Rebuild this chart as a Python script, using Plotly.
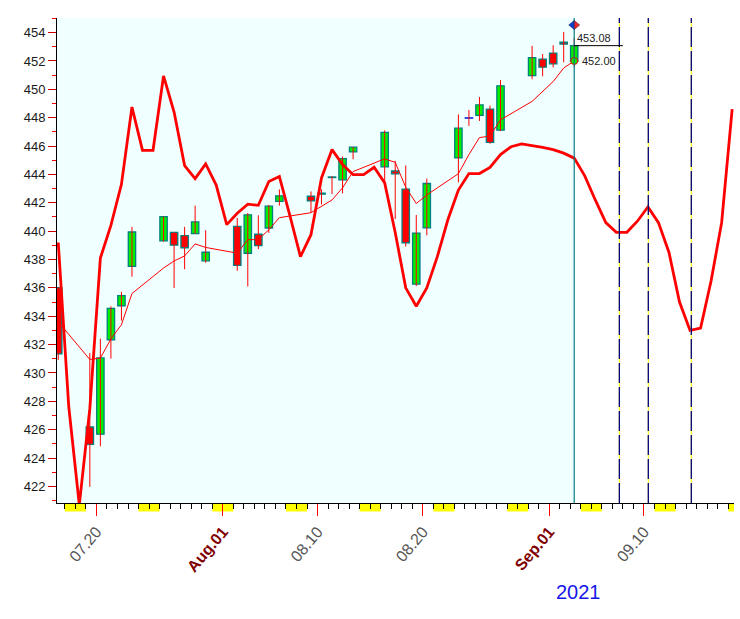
import plotly.graph_objects as go
import pandas as pd

# ---------------- data ----------------
trade_dates = ["2021-07-16", "2021-07-19", "2021-07-20", "2021-07-21", "2021-07-22", "2021-07-23",
               "2021-07-26", "2021-07-27", "2021-07-28", "2021-07-29", "2021-07-30",
               "2021-08-02", "2021-08-03", "2021-08-04", "2021-08-05", "2021-08-06",
               "2021-08-09", "2021-08-10", "2021-08-11", "2021-08-12", "2021-08-13",
               "2021-08-16", "2021-08-17", "2021-08-18", "2021-08-19", "2021-08-20",
               "2021-08-23", "2021-08-24", "2021-08-25", "2021-08-26", "2021-08-27",
               "2021-08-30", "2021-08-31", "2021-09-01", "2021-09-02", "2021-09-03"]
opens = [436.01, 426.19, 425.68, 432.34, 434.74, 437.52,
         439.31, 439.91, 439.68, 439.82, 437.91,
         440.34, 438.44, 439.78, 440.22, 442.10,
         442.46, 442.61, 443.82, 443.62, 445.59,
         444.53, 444.24, 442.96, 436.27, 440.23,
         445.16, 447.97, 448.17, 448.61, 447.12,
         450.97, 452.13, 452.56, 453.32, 451.98]
highs = [436.06, 431.41, 432.42, 434.70, 435.72, 440.30,
         441.03, 439.94, 440.30, 441.80, 440.06,
         440.93, 441.28, 441.12, 441.85, 442.94,
         442.80, 442.95, 443.88, 445.26, 445.94,
         447.11, 444.96, 444.63, 441.14, 443.71,
         448.23, 448.54, 449.46, 448.86, 450.65,
         453.07, 452.49, 453.11, 454.05, 453.63]
lows = [430.92, 421.97, 424.83, 431.01, 433.69, 436.79,
        439.26, 435.99, 437.31, 439.81, 437.77,
        437.21, 436.10, 438.73, 439.88, 441.80,
        441.31, 441.88, 442.62, 442.66, 445.07,
        443.10, 440.85, 438.92, 436.12, 439.71,
        443.44, 447.42, 447.77, 446.16, 447.06,
        450.71, 450.92, 451.55, 451.91, 451.55]
closes = [431.34, 424.97, 431.06, 434.55, 435.46, 439.94,
          441.02, 439.01, 438.83, 440.65, 438.51,
          437.59, 441.15, 438.98, 441.76, 442.49,
          442.13, 442.68, 443.78, 445.11, 445.92,
          446.97, 444.04, 439.18, 439.86, 443.36,
          447.26, 447.97, 448.91, 446.26, 450.25,
          452.23, 451.56, 451.80, 453.19, 453.08]
ma_vals = [433.6, 430.95, 431.05, 432.4, 433.4, 435.6,
           437.4, 437.9, 438.25, 439.1, 438.85,
           438.45, 439.4, 439.4, 440.1, 440.95,
           441.3, 441.75, 442.2, 443.05, 444.2,
           445.1, 444.85, 443.1, 441.95, 442.55,
           444.05, 445.4, 446.6, 446.7, 447.85,
           449.15, 449.85, 450.55, 451.5, 452.0]

# projection curve, one value per calendar day starting 2021-07-16
curve_start = "2021-07-16"
curve_vals = [439.2, 427.6, 420.7, 427.5, 438.1, 440.4, 443.3, 448.75, 445.7, 445.7,
              450.95, 448.4, 444.62, 443.7, 444.74, 443.25, 440.46, 441.26, 441.9, 441.82,
              443.5, 443.85, 441.1, 438.2, 439.75, 443.75, 445.75, 444.7, 443.98, 443.98,
              444.5, 443.4, 439.9, 436.0, 434.7, 436.0, 438.2, 440.8, 442.9, 444.06,
              444.06, 444.5, 445.4, 445.95, 446.15, 446.05, 445.9, 445.75, 445.5, 445.15,
              443.9, 442.2, 440.6, 439.92, 439.92, 440.7, 441.7, 440.6, 438.5, 435.0,
              433.0, 433.17, 436.5, 440.6, 448.6]

event_times = ["2021-09-07 15:50", "2021-09-10 09:50", "2021-09-14 11:50"]
weekend_saturdays = ["2021-07-17", "2021-07-24", "2021-07-31", "2021-08-07", "2021-08-14",
                     "2021-08-21", "2021-08-28", "2021-09-04", "2021-09-11", "2021-09-18"]

tick_dates = ["2021-07-20", "2021-08-01", "2021-08-10", "2021-08-20", "2021-09-01", "2021-09-10"]
tick_labels = ["07.20", "Aug.01", "08.10", "08.20", "Sep.01", "09.10"]
month_labels = {"Aug.01", "Sep.01"}
year_label = "2021"

# ---------------- layout constants ----------------
x_start = pd.Timestamp("2021-07-16 06:09")
x_end = pd.Timestamp("2021-09-18 13:10")
offset = pd.Timedelta(hours=9)
day_ms = 86400000

cx = [pd.Timestamp(d) + offset for d in trade_dates]
curve_x = [pd.Timestamp(curve_start) + pd.Timedelta(days=i) + offset for i in range(len(curve_vals))]
last_x = cx[-1]

# wicks
wx, wy = [], []
for x, lo, hi in zip(cx, lows, highs):
    wx += [x, x, None]
    wy += [lo, hi, None]

bases, heights, fills, edges = [], [], [], []
for o, c in zip(opens, closes):
    bases.append(min(o, c))
    heights.append(max(abs(c - o), 0.02))
    fills.append("#00EE00" if c >= o else "#FF0000")
    edges.append("#1020E0" if abs(c - o) < 0.01 else "#008080")

fig = go.Figure()
fig.add_trace(go.Scatter(x=wx, y=wy, mode="lines", line=dict(color="#FF0000", width=1),
                         hoverinfo="skip", connectgaps=False))
fig.add_trace(go.Bar(x=cx, y=heights, base=bases, width=0.7 * day_ms,
                     marker=dict(color=fills, line=dict(color=edges, width=1.3))))
fig.add_trace(go.Scatter(x=cx, y=ma_vals, mode="lines", line=dict(color="#FF0000", width=1)))
fig.add_trace(go.Scatter(x=curve_x, y=curve_vals, mode="lines", line=dict(color="#FF0000", width=2.8)))
fig.add_trace(go.Scatter(x=[last_x], y=[ma_vals[-1]], mode="markers",
                         marker=dict(symbol="circle", size=7, color="#00EE00",
                                     line=dict(color="#FF0000", width=1))))

shapes = []
# light background of the history part
shapes.append(dict(type="rect", xref="x", yref="paper", x0=x_start, x1=last_x, y0=0, y1=1,
                   fillcolor="#F0FFFF", line=dict(width=0), layer="below"))
# weekend blocks under the axis
for s in weekend_saturdays:
    a = pd.Timestamp(s)
    b = min(a + pd.Timedelta(days=2), x_end)
    shapes.append(dict(type="rect", xref="x", yref="paper", x0=a, x1=b, y0=-0.0175, y1=-0.002,
                       fillcolor="#FFFF00", line=dict(width=0), layer="below"))
# event lines
for t in event_times:
    shapes.append(dict(type="line", xref="x", yref="paper", x0=t, x1=t, y0=0, y1=1,
                       line=dict(color="#FFFF00", width=1)))
    shapes.append(dict(type="line", xref="x", yref="paper", x0=t, x1=t, y0=0, y1=1,
                       line=dict(color="#000080", width=1.3, dash="20px,4px")))
# current bar line
shapes.append(dict(type="line", xref="x", yref="paper", x0=last_x, x1=last_x, y0=0, y1=1,
                   line=dict(color="#008080", width=1.2)))
# last close line
shapes.append(dict(type="line", xref="x", yref="y", x0=last_x, x1=pd.Timestamp("2021-09-08"),
                   y0=closes[-1], y1=closes[-1], line=dict(color="#000000", width=1)))
# diamond marker (blue/red halves)
shapes.append(dict(type="path", xref="x", yref="paper", xsizemode="pixel", ysizemode="pixel",
                   xanchor=last_x, yanchor=0.9855, path="M-5.5,0 L0,4.5 L0,-4.5 Z",
                   fillcolor="#1040D0", line=dict(color="#203060", width=0.6)))
shapes.append(dict(type="path", xref="x", yref="paper", xsizemode="pixel", ysizemode="pixel",
                   xanchor=last_x, yanchor=0.9855, path="M0,4.5 L5.5,0 L0,-4.5 Z",
                   fillcolor="#FF2020", line=dict(color="#203060", width=0.6)))

annotations = [
    dict(x=last_x, y=closes[-1], xref="x", yref="y", text=f"{closes[-1]:.2f}", showarrow=False,
         xanchor="left", yanchor="bottom", xshift=1, yshift=0,
         font=dict(size=11, color="#222222")),
    dict(x=last_x, y=ma_vals[-1], xref="x", yref="y", text=f"{ma_vals[-1]:.2f}", showarrow=False,
         xanchor="left", yanchor="middle", xshift=6,
         font=dict(size=11, color="#222222")),
    dict(x=0.7696, y=-0.183, xref="paper", yref="paper", text=year_label, showarrow=False,
         xanchor="center", yanchor="middle", font=dict(size=20, color="#1515E8")),
]

ticktext = [f'<b><span style="color:#800000">{t}</span></b>' if t in month_labels else t
            for t in tick_labels]

fig.update_layout(
    width=740, height=619,
    margin=dict(l=57, r=6, t=18, b=116),
    paper_bgcolor="white", plot_bgcolor="white",
    showlegend=False, barmode="overlay",
    font=dict(family="Liberation Sans, Arial, sans-serif"),
    shapes=shapes, annotations=annotations,
    xaxis=dict(type="date", range=[x_start, x_end], showgrid=False, zeroline=False,
               automargin=False,
               showline=True, linecolor="black", linewidth=1,
               tickmode="array", tickvals=tick_dates, ticktext=ticktext,
               ticks="outside", ticklen=12, tickcolor="#FF0000", tickwidth=1,
               tickangle=-50, tickfont=dict(size=16, color="#555555"),
               minor=dict(ticks="outside", dtick=day_ms, tick0="2021-07-16",
                          ticklen=5, tickcolor="black", tickwidth=1, showgrid=False)),
    yaxis=dict(range=[420.83, 455.03], showgrid=False, zeroline=False,
               automargin=False,
               showline=True, linecolor="black", linewidth=1,
               tickmode="linear", tick0=422, dtick=2,
               ticks="outside", ticklen=8, tickcolor="#CC0000", tickwidth=1,
               tickfont=dict(size=13, color="#1a1a1a"),
               minor=dict(ticks="outside", dtick=1, ticklen=4, tickcolor="#FF0000",
                          tickwidth=1, showgrid=False)),
)

fig.write_html("out.html",
               config={"displayModeBar": False},
               post_script="document.body.style.margin='0';document.body.style.overflow='hidden';")
